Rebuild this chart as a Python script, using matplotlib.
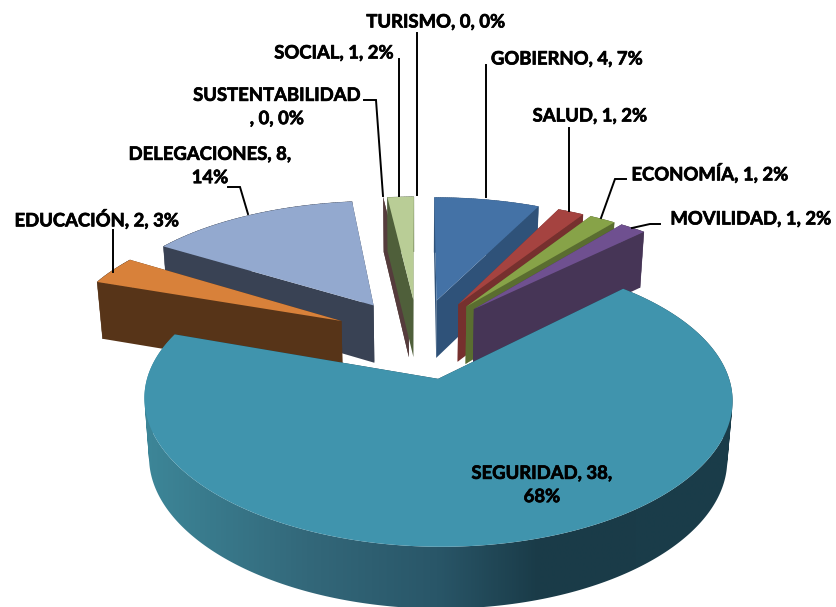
import numpy as np
import matplotlib
matplotlib.use("Agg")
import matplotlib.pyplot as plt
import matplotlib.patheffects as pe
from matplotlib.colors import LinearSegmentedColormap
from matplotlib.path import Path

categories = ["GOBIERNO", "SALUD", "ECONOMÍA", "MOVILIDAD", "SEGURIDAD",
              "EDUCACIÓN", "DELEGACIONES", "SUSTENTABILIDAD", "SOCIAL", "TURISMO"]
values = [4, 1, 1, 1, 38, 2, 8, 0, 1, 0]
percents = [7, 2, 2, 2, 68, 3, 14, 0, 2, 0]

top_colors = ["#4472a6", "#a54340", "#87a348", "#6f5090", "#4094ad",
              "#d8813a", "#93a9cf", "#7f5a58", "#b9cd96", "#888888"]
wall_colors = ["#2f5279", "#76302e", "#5a6d30", "#463556", "#1a3d4a",
               "#573418", "#394254", "#553c3c", "#4f5f3a", "#555555"]

# fake 3d camera, all in pixels of the 836x607 picture
cx, cy = 418, 338
radius = 279
tilt = 129
persp_x = 0.137
persp_y = 0.15
explode = 0.31
depth = 58
shrink = 0.983

# painter order, back to front (turismo has no visible wedge in the original)
draw_order = [6, 5, 7, 8, 0, 1, 2, 3, 4]


def project(x, y, bottom=False):
    s = 1 / (1 - persp_y * y)
    sx = cx + x * radius / (1 - persp_x * y)
    sy = cy + y * tilt * s
    if bottom:
        sx = cx + (sx - cx) * shrink
        sy = sy + depth * s ** 0.3
    return sx, sy


def draw_slice(ax, start, stop, top, wall, gradient=None):
    mid = np.radians((start + stop) / 2)
    ex, ey = explode * np.sin(mid), -explode * np.cos(mid)
    th = np.radians(np.linspace(start, stop, max(int(stop - start) * 2, 2)))
    rx, ry = ex + np.sin(th), ey - np.cos(th)

    tx, ty = project(rx, ry)
    bx, by = project(rx, ry, bottom=True)
    ax0, ay0 = project(ex, ey)
    ax1, ay1 = project(ex, ey, bottom=True)

    # radial walls
    for i in [0, -1]:
        ax.fill([ax0, tx[i], bx[i], ax1], [ay0, ty[i], by[i], ay1],
                color=wall, lw=0, zorder=2)
    # rim wall, quads all wound the same way so the clip path has no holes
    quads = []
    for i in range(len(th) - 1):
        q = np.array([[tx[i], ty[i]], [tx[i + 1], ty[i + 1]],
                      [bx[i + 1], by[i + 1]], [bx[i], by[i]]])
        area = np.sum(q[:, 0] * np.roll(q[:, 1], -1) - np.roll(q[:, 0], -1) * q[:, 1])
        if area < 0:
            q = q[::-1]
        quads.append(q)
    if gradient is None:
        for q in quads:
            ax.fill(q[:, 0], q[:, 1], facecolor=wall, edgecolor=wall, lw=0.3, zorder=2)
    else:
        rim = Path.make_compound_path(
            *[Path(np.r_[q, q[:1]], closed=True) for q in quads])
        im = ax.imshow(np.linspace(0, 1, 512)[None, :], cmap=gradient,
                       extent=[140, 735, 607, 200], aspect="auto", zorder=2,
                       interpolation="bilinear")
        im.set_clip_path(rim, transform=ax.transData)
    # top face
    ax.fill(np.r_[ax0, tx], np.r_[ay0, ty], color=top, lw=0, zorder=2)


fig = plt.figure(figsize=(8.36, 6.07), dpi=100)
ax = fig.add_axes([0, 0, 1, 1])

rim_shade = LinearSegmentedColormap.from_list(
    "rim", [(0, "#3d8799"), (0.28, "#33687a"), (0.5, "#295668"),
            (0.67, "#1a3b48"), (1, "#1a3d4a")])

bounds = np.cumsum([0] + values) / sum(values) * 360
for i in draw_order:
    draw_slice(ax, bounds[i], bounds[i + 1], top_colors[i], wall_colors[i],
               gradient=rim_shade if categories[i] == "SEGURIDAD" else None)

ax.set_xlim(0, 836)
ax.set_ylim(607, 0)
ax.axis("off")

# leader lines
leaders = [
    ([417, 417], [33, 195]),
    ([399, 399], [59, 196]),
    ([364, 376, 383], [100, 100, 196]),
    ([228, 240, 248], [187, 187, 214]),
    ([113, 113], [230, 272]),
    ([486, 486], [65, 197]),
    ([569, 569], [128, 211]),
    ([626, 615, 601], [179, 179, 218]),
    ([660, 650, 632], [224, 224, 228]),
]
for lx, ly in leaders:
    ax.plot(lx, ly, color="black", lw=1.4, zorder=3, solid_joinstyle="miter")

# label text and centre of each label
label_text = {}
for name, v, p in zip(categories, values, percents):
    label_text[name] = f"{name}, {v}, {p}%"
label_text["SUSTENTABILIDAD"] = "SUSTENTABILIDAD\n, 0, 0%"
label_text["DELEGACIONES"] = "DELEGACIONES, 8,\n14%"
label_text["SEGURIDAD"] = "SEGURIDAD, 38,\n68%"

label_pos = {
    "TURISMO": (436, 22), "SOCIAL": (334, 53), "GOBIERNO": (567, 59),
    "SUSTENTABILIDAD": (277, 107), "SALUD": (590, 116),
    "DELEGACIONES": (210, 166), "ECONOMÍA": (710, 173),
    "EDUCACIÓN": (97, 219), "MOVILIDAD": (751, 219), "SEGURIDAD": (542, 485),
}
for name, (x, y) in label_pos.items():
    t = ax.text(x, y, label_text[name], ha="center", va="center", family="Lato",
                weight="bold", fontsize=13.3, color="black", linespacing=1.45,
                zorder=4)
    t.set_path_effects([pe.withStroke(linewidth=0.5, foreground="black")])

fig.savefig("out.png", dpi=100)
